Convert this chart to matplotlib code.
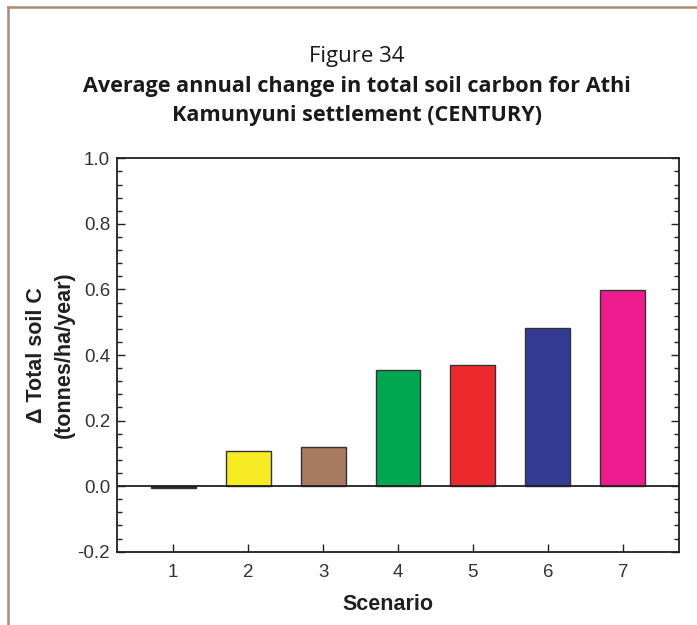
import matplotlib
matplotlib.use("Agg")
import matplotlib.pyplot as plt
from matplotlib.ticker import MultipleLocator
from matplotlib.lines import Line2D

scenarios = [1, 2, 3, 4, 5, 6, 7]
values = [-0.006, 0.106, 0.120, 0.354, 0.369, 0.481, 0.598]
colors = ["#231f20", "#f7eb23", "#a87a62", "#00a650", "#ec2a2e", "#343b93", "#ec1c8e"]
ytick_vals = [-0.2, 0.0, 0.2, 0.4, 0.6, 0.8, 1.0]

W, H = 697, 625
fig = plt.figure(figsize=(W / 100, H / 100), dpi=100)
ax = fig.add_axes([117 / W, 1 - 551.7 / H, (679 - 117) / W, (551.7 - 158.3) / H])

ink = "#231f20"
ax.bar(scenarios, values, width=0.6, color=colors, edgecolor="#333333", linewidth=1.0, zorder=2)
ax.axhline(0, color=ink, linewidth=1.3, zorder=3)

ax.set_xlim(0.25, 7.75)
ax.set_ylim(-0.2, 1.0)
ax.set_xticks(scenarios)
ax.set_yticks(ytick_vals)
ax.set_yticklabels([f"{v:.1f}" for v in ytick_vals])
ax.yaxis.set_minor_locator(MultipleLocator(0.04))

for s in ax.spines.values():
    s.set_color(ink)
    s.set_linewidth(1.3)

ax.tick_params(axis="y", which="major", direction="in", length=6, width=1, color=ink,
               left=True, right=True, labelcolor="#333333", pad=5)
ax.tick_params(axis="y", which="minor", direction="in", length=3.5, width=1, color=ink,
               left=True, right=True)
ax.tick_params(axis="x", which="major", direction="in", length=6, width=1, color=ink,
               top=False, labelcolor="#333333", pad=9)
for lbl in ax.get_xticklabels() + ax.get_yticklabels():
    lbl.set_fontfamily("Liberation Sans")
    lbl.set_fontsize(13.5)

lab = dict(fontfamily="Liberation Sans", fontsize=15.5, fontweight="bold", color="#231f20")
fig.text(388 / W, 1 - 610 / H, "Scenario", ha="center", va="baseline", **lab)
fig.text(37 / W, 1 - 355 / H, "\u0394 Total soil C", rotation=90, ha="center", va="center", **lab)
fig.text(64 / W, 1 - 355 / H, "(tonnes/ha/year)", rotation=90, ha="center", va="center", **lab)

# Titles
tcx = 356.5 / W
fig.text(tcx, 1 - 62.3 / H, "Figure 34", ha="center", va="baseline",
         fontfamily="Open Sans", fontsize=16, color="#1a1a1a")
fig.text(tcx, 1 - 91.7 / H, "Average annual change in total soil carbon for Athi",
         ha="center", va="baseline", fontfamily="Open Sans", fontsize=15.6,
         fontweight="bold", color="#1a1a1a")
fig.text(tcx, 1 - 121.5 / H, "Kamunyuni settlement (CENTURY)",
         ha="center", va="baseline", fontfamily="Open Sans", fontsize=15.6,
         fontweight="bold", color="#1a1a1a")

# Brown frame (left and top edges)
frame = "#b08b72"
fig.add_artist(Line2D([8 / W, 8 / W], [0, 1 - 7 / H], transform=fig.transFigure,
                      color=frame, linewidth=1.8))
fig.add_artist(Line2D([8 / W, 1], [1 - 7 / H, 1 - 7 / H], transform=fig.transFigure,
                      color=frame, linewidth=1.8))

fig.savefig("out.png", dpi=100)
